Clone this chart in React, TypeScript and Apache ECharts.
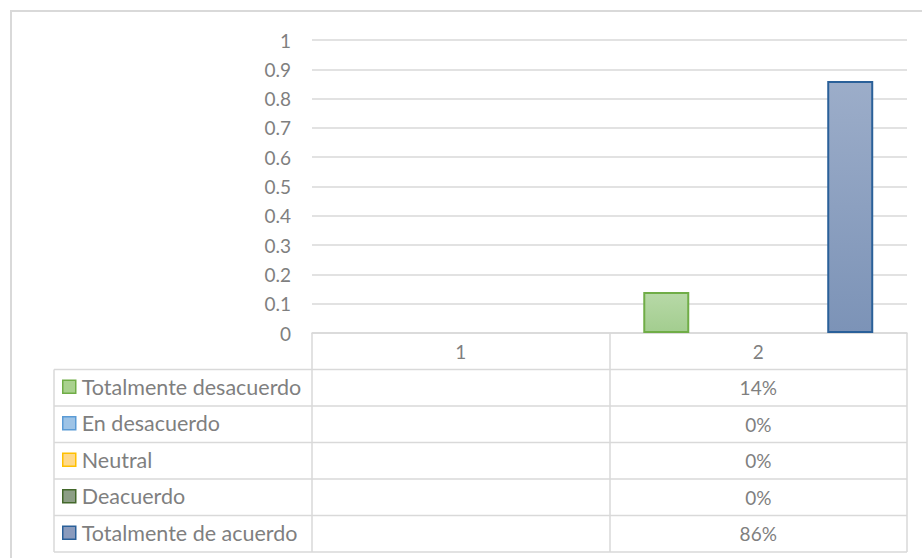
import React, { useEffect, useRef } from "react";
import * as echarts from "echarts";

// ---- data ----
const categories = ["1", "2"];
const seriesNames = [
  "Totalmente desacuerdo",
  "En desacuerdo",
  "Neutral",
  "Deacuerdo",
  "Totalmente de acuerdo",
];
const totalmenteDesacuerdo: (number | null)[] = [null, 0.14];
const enDesacuerdo: (number | null)[] = [null, 0];
const neutral: (number | null)[] = [null, 0];
const deacuerdo: (number | null)[] = [null, 0];
const totalmenteDeAcuerdo: (number | null)[] = [null, 0.86];
const seriesValues = [totalmenteDesacuerdo, enDesacuerdo, neutral, deacuerdo, totalmenteDeAcuerdo];

// ---- styles ----
const fillTop = ["#b7d9a7", "#a9c9ea", "#ffdc8f", "#95a78d", "#9cadc9"];
const fillBottom = ["#a3cd8f", "#93b9e2", "#ffd272", "#82977a", "#7c93b7"];
const borders = ["#70ad47", "#5b9bd5", "#ffc000", "#43682b", "#2a6099"];
const keyFill = ["#a9d18e", "#9dc3e6", "#ffd98a", "#8c9e85", "#8a9bbd"];

const FONT = "Lato, 'Open Sans', sans-serif";
const TEXT = "#7f7f7f";
const LINE = "#d9d9d9";

const GRID_LEFT = 312;
const GRID_RIGHT_X = 907;
const GRID_TOP = 40;
const AXIS_Y = 333;
const ROW_H = 36.5;
const TABLE_LEFT = 54;
const LEGEND_FS = 21.5;
const LEGEND_LH = 22;

export default function App() {
  const ref = useRef<HTMLDivElement>(null);

  useEffect(() => {
    if (!ref.current) return;
    const chart = echarts.init(ref.current, undefined, { renderer: "svg" });
    const catW = (GRID_RIGHT_X - GRID_LEFT) / categories.length;
    const nRows = seriesNames.length;
    const tableBottom = AXIS_Y + ROW_H * (nRows + 1);

    const graphic: any[] = [
      {
        type: "rect",
        z: -10,
        shape: { x: 11, y: 11, width: 960, height: 600 },
        style: { fill: "none", stroke: LINE, lineWidth: 2 },
        silent: true,
      },
      {
        type: "line",
        shape: { x1: TABLE_LEFT, y1: AXIS_Y + ROW_H, x2: TABLE_LEFT, y2: tableBottom },
        style: { stroke: LINE, lineWidth: 1.5 },
        silent: true,
      },
    ];
    for (let i = 1; i <= nRows + 1; i++) {
      const y = AXIS_Y + ROW_H * i;
      graphic.push({
        type: "line",
        shape: { x1: TABLE_LEFT, y1: y, x2: GRID_RIGHT_X, y2: y },
        style: { stroke: LINE, lineWidth: 1.5 },
        silent: true,
      });
    }
    seriesValues.forEach((vals, s) => {
      vals.forEach((v, c) => {
        if (v == null) return;
        graphic.push({
          type: "text",
          x: GRID_LEFT + (c + 0.5) * catW,
          y: AXIS_Y + ROW_H * (s + 1.5),
          style: {
            text: `${Math.round(v * 100)}%`,
            fill: TEXT,
            fontSize: 19,
            fontFamily: FONT,
            align: "center",
            verticalAlign: "middle",
            textAlign: "center",
            textVerticalAlign: "middle",
          },
          silent: true,
        });
      });
    });

    const option: any = {
      animation: false,
      backgroundColor: "#ffffff",
      grid: {
        left: GRID_LEFT,
        top: GRID_TOP,
        width: GRID_RIGHT_X - GRID_LEFT,
        height: AXIS_Y - GRID_TOP,
        containLabel: false,
      },
      legend: {
        orient: "vertical",
        left: 62,
        top: AXIS_Y + ROW_H + (ROW_H - LEGEND_LH) / 2 - 1,
        padding: 0,
        itemGap: ROW_H - LEGEND_LH,
        itemWidth: 13,
        itemHeight: 13,
        icon: "rect",
        selectedMode: false,
        textStyle: {
          fontSize: LEGEND_FS,
          lineHeight: LEGEND_LH,
          color: TEXT,
          fontFamily: FONT,
          padding: [0, 0, 0, 1],
        },
        data: seriesNames.map((n, i) => ({
          name: n,
          itemStyle: { color: keyFill[i], borderColor: borders[i], borderWidth: 1.5 },
        })),
      },
      xAxis: {
        type: "category",
        data: categories,
        boundaryGap: true,
        axisLine: { show: true, lineStyle: { color: LINE, width: 1.5 } },
        axisTick: {
          show: true,
          interval: 0,
          length: ROW_H * (nRows + 1),
          lineStyle: { color: LINE, width: 1.5 },
        },
        axisLabel: {
          margin: ROW_H / 2,
          verticalAlign: "middle",
          fontSize: 19,
          color: TEXT,
          fontFamily: FONT,
        },
        splitLine: { show: false },
      },
      yAxis: {
        type: "value",
        min: 0,
        max: 1,
        interval: 0.1,
        axisLine: { show: false },
        axisTick: { show: false },
        axisLabel: {
          margin: 21,
          fontSize: 19,
          color: TEXT,
          fontFamily: FONT,
          formatter: (v: number) => String(parseFloat(v.toFixed(1))),
        },
        splitLine: { show: true, lineStyle: { color: LINE, width: 1.5 } },
      },
      series: seriesNames.map((name, i) => ({
        name,
        type: "bar",
        barGap: "0%",
        barCategoryGap: "22.7%",
        itemStyle: {
          color: new echarts.graphic.LinearGradient(0, 0, 0, 1, [
            { offset: 0, color: fillTop[i] },
            { offset: 1, color: fillBottom[i] },
          ]),
          borderColor: borders[i],
          borderWidth: 2,
        },
        data: seriesValues[i].map((v) =>
          v === 0 ? { value: 0, itemStyle: { borderWidth: 0 } } : v
        ),
      })),
      graphic,
    };
    chart.setOption(option);
    return () => chart.dispose();
  }, []);

  return (
    <div
      ref={ref}
      style={{ position: "fixed", left: 0, top: 0, width: 922, height: 558, background: "#fff" }}
    />
  );
}
